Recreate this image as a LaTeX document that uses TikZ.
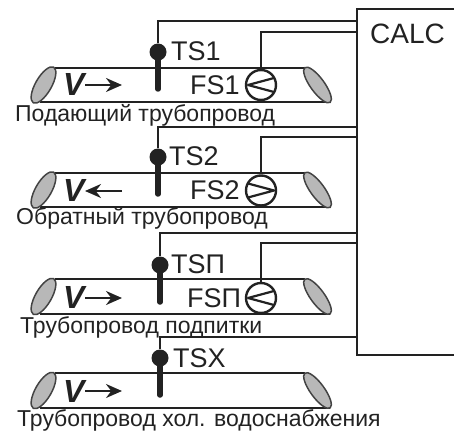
\documentclass[tikz,border=0pt]{standalone}
\usepackage{fontspec}
\setmainfont{Liberation Sans}
\usetikzlibrary{arrows.meta}
\definecolor{ink}{HTML}{222222}
\tikzset{
  wire/.style={draw=ink,line width=2pt},
  pipeline/.style={draw=ink,line width=2.2pt},
  capend/.style={draw=ink!85,fill=black!28,line width=1.5pt},
  bulb/.style={circle,fill=ink,draw=none,minimum size=17pt,inner sep=0pt},
  stem/.style={draw=ink,line width=5.5pt,line cap=round},
  meter/.style={circle,draw=ink,fill=white,line width=2.4pt,minimum size=30pt,inner sep=0pt},
  needle/.style={draw=ink,line width=2.2pt,line join=round},
  lab/.style={font=\fontsize{27}{27}\selectfont,text=ink,inner sep=0pt,anchor=base west},
  captext/.style={font=\fontsize{23}{23}\selectfont,text=ink,inner sep=0pt,anchor=base west},
  vel/.style={font=\fontsize{32}{32}\selectfont\bfseries\itshape,text=ink,inner sep=0pt,anchor=base west},
  flow/.style={draw=ink,line width=2pt,-{Stealth[length=16pt,width=14pt]}}
}
\newcommand{\pipebody}[2]{% top y, bottom y
  \draw[pipeline] (55,#1) -- (305,#1);
  \draw[pipeline] (40,#2) -- (330,#2);
  \path[capend] ({43.5},{(#1+#2)/2}) ellipse[x radius=20.5,y radius=8,rotate=60];
  \path[capend] ({317.5},{(#1+#2)/2}) ellipse[x radius=21.5,y radius=7,rotate=-54];
}
\begin{document}
\begin{tikzpicture}[x=1pt,y=-1pt]
\useasboundingbox (0,0) rectangle (454,430);
% calculator
\draw[wire] (454,9) -- (357,9) -- (357,355) -- (454,355);
\node[lab,font=\fontsize{28}{28}\selectfont] (calc) at (370,44) {CALC};
\coordinate (c1) at (357,21);\coordinate (f1) at (357,32);
\coordinate (c2) at (357,127);\coordinate (f2) at (357,137);
\coordinate (c3) at (357,233);\coordinate (f3) at (357,243);
\coordinate (c4) at (357,337);
% pipes
\pipebody{68}{102}
\pipebody{173}{207}
\pipebody{279}{314}
\pipebody{373}{408}
% temperature sensors
\node[bulb] (ts1) at (158,52) {};
\node[bulb] (ts2) at (158,157) {};
\node[bulb] (ts3) at (160,265) {};
\node[bulb] (ts4) at (160,358) {};
\coordinate (s1) at (158,89);\coordinate (s2) at (158,194);
\coordinate (s3) at (160,302);\coordinate (s4) at (160,395);
\draw[stem] (ts1) -- (s1);
\draw[stem] (ts2) -- (s2);
\draw[stem] (ts3) -- (s3);
\draw[stem] (ts4) -- (s4);
\draw[wire] (ts1) |- (c1);
\draw[wire] (ts2) |- (c2);
\draw[wire] (ts3) |- (c3);
\draw[wire] (ts4) |- (c4);
% flow meters
\node[meter] (fs1) at (261,85) {};
\node[meter] (fs2) at (261,190.5) {};
\node[meter] (fs3) at (261,298) {};
\draw[wire] (fs1) |- (f1);
\draw[wire] (fs2) |- (f2);
\draw[wire] (fs3) |- (f3);
\draw[needle] (274,78) -- (248,85) -- (274,92);
\draw[needle] (248,183.5) -- (274,190.5) -- (248,197.5);
\draw[needle] (274,291) -- (248,298) -- (274,305);
% labels
\node[lab] (t1) at (171,61) {TS1};
\node[lab] (t2) at (169,166) {TS2};
\node[lab] (t3) at (171,273) {TSП};
\node[lab] (t4) at (173,367) {TSX};
\node[lab] (l1) at (190,95) {FS1};
\node[lab] (l2) at (190,200) {FS2};
\node[lab] (l3) at (187,307) {FSП};
% velocity
\node[vel] (v1) at (63,96) {V};
\node[vel] (v2) at (63,201) {V};
\node[vel] (v3) at (63,308) {V};
\node[vel] (v4) at (63,402) {V};
\coordinate (a1) at (122,85);\coordinate (a2) at (85,191);
\coordinate (a3) at (122,298);\coordinate (a4) at (122,391);
\coordinate (b1) at (85,85);\coordinate (b2) at (122,191);
\coordinate (b3) at (85,298);\coordinate (b4) at (85,391);
\draw[flow] (b1) -- (a1);
\draw[flow] (b2) -- (a2);
\draw[flow] (b3) -- (a3);
\draw[flow] (b4) -- (a4);
% captions
\node[captext] (n1) at (15,122) {Подающий трубопровод};
\node[captext] (n2) at (16,224) {Обратный трубопровод};
\node[captext] (n3) at (20,333) {Трубопровод подпитки};
\node[captext] (n4) at (17,426) {Трубопровод хол. водоснабжения};
\end{tikzpicture}
\end{document}
